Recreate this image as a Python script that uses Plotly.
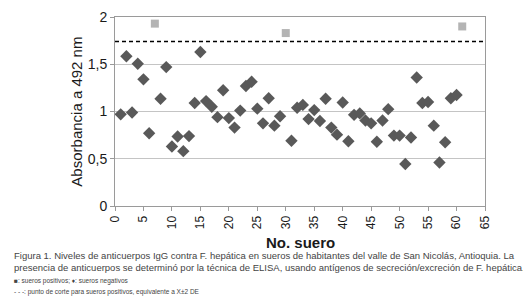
import plotly.graph_objects as go

# Serum numbers and absorbance (492 nm)
neg_serum = [1, 2, 3, 4, 5, 6, 8, 9, 10, 11, 12, 13, 14, 15, 16, 17, 18, 19, 20,
             21, 22, 23, 24, 25, 26, 27, 28, 29, 31, 32, 33, 34, 35, 36, 37, 38,
             39, 40, 41, 42, 43, 44, 45, 46, 47, 48, 49, 50, 51, 52, 53, 54, 55,
             56, 57, 58, 59, 60]
neg_abs = [0.97, 1.585, 0.99, 1.505, 1.34, 0.77, 1.135, 1.47, 0.63, 0.735, 0.58,
           0.74, 1.09, 1.63, 1.11, 1.05, 0.94, 1.225, 0.93,
           0.83, 1.01, 1.27, 1.315, 1.03, 0.875, 1.14, 0.85, 0.95, 0.69, 1.04,
           1.07, 0.92, 1.015, 0.90, 1.135, 0.83,
           0.755, 1.095, 0.685, 0.965, 0.98, 0.905, 0.875, 0.68, 0.905, 1.025,
           0.745, 0.745, 0.445, 0.725, 1.36, 1.09, 1.10,
           0.85, 0.46, 0.675, 1.14, 1.175]
pos_serum = [7, 30, 61]
pos_abs = [1.93, 1.83, 1.90]
cutoff = 1.74

x_ticks = list(range(0, 70, 5))
y_ticks = [0, 0.5, 1, 1.5, 2]

fig = go.Figure()
fig.add_trace(go.Scatter(x=neg_serum, y=neg_abs, mode="markers",
                         marker=dict(symbol="diamond", size=9.5, color="#595959"),
                         showlegend=False))
fig.add_trace(go.Scatter(x=pos_serum, y=pos_abs, mode="markers",
                         marker=dict(symbol="square", size=8, color="#b4b4b4"),
                         showlegend=False))
fig.add_shape(type="line", xref="paper", x0=0, x1=1, yref="y", y0=cutoff, y1=cutoff,
              line=dict(color="black", width=1.5, dash="4px,3px"))

axis_font = dict(family="Liberation Sans, Arial", size=13, color="#1a1a1a")
fig.update_layout(
    width=531, height=301,
    margin=dict(l=107, r=54, t=9, b=103),
    paper_bgcolor="white", plot_bgcolor="white",
    separators=",.",
    xaxis=dict(range=[0, 65], tickvals=x_ticks, tickangle=-90,
               tickfont=dict(family="Liberation Sans, Arial", size=12, color="#1a1a1a"),
               showgrid=False, zeroline=False, showline=True, linecolor="#9a9a9a",
               linewidth=1, mirror=True, ticks="outside", ticklen=4, tickcolor="#9a9a9a",
               automargin=False),
    yaxis=dict(range=[0, 2], tickvals=y_ticks, tickformat=",.1~f",
               tickfont=dict(family="Liberation Sans, Arial", size=14, color="#1a1a1a"),
               showgrid=True, gridcolor="#c4c4c4", gridwidth=1, zeroline=False,
               showline=True, linecolor="#9a9a9a", linewidth=1, mirror=True,
               ticks="outside", ticklen=4, tickcolor="#9a9a9a", automargin=False),
    font=axis_font,
)

fig.add_annotation(text="<b>No. suero</b>", xref="paper", yref="paper",
                   x=0.5, y=-0.195, xanchor="center", yanchor="middle",
                   showarrow=False, font=dict(family="Liberation Sans, Arial", size=15, color="#1a1a1a"))
fig.add_annotation(text="Absorbancia a 492 nm", xref="paper", yref="paper",
                   x=-0.105, y=0.5, textangle=-90, xanchor="center", yanchor="middle",
                   showarrow=False, font=dict(family="Liberation Sans, Arial", size=15, color="#1a1a1a"))

cap1 = "Figura 1. Niveles de anticuerpos IgG contra F. hepática en sueros de habitantes del valle de San Nicolás, Antioquia. La"
cap2 = "presencia de anticuerpos se determinó por la técnica de ELISA, usando antígenos de secreción/excreción de F. hepática."
cap3 = "■: sueros positivos; ♦: sueros negativos"
cap4 = "- - -: punto de corte para sueros positivos, equivalente a X±2 DE"
for txt, ypx, size in [(cap1, 247, 9.5), (cap2, 259, 9.5), (cap3, 273, 6.5), (cap4, 284, 6.5)]:
    fig.add_annotation(text=txt, xref="paper", yref="paper",
                       x=(4 - 107) / (531 - 107 - 54), y=(301 - 103 - ypx) / (301 - 9 - 103),
                       xanchor="left", yanchor="middle", showarrow=False,
                       font=dict(family="Liberation Sans, Arial", size=size, color="#444444"))

fig.write_html("out.html")
